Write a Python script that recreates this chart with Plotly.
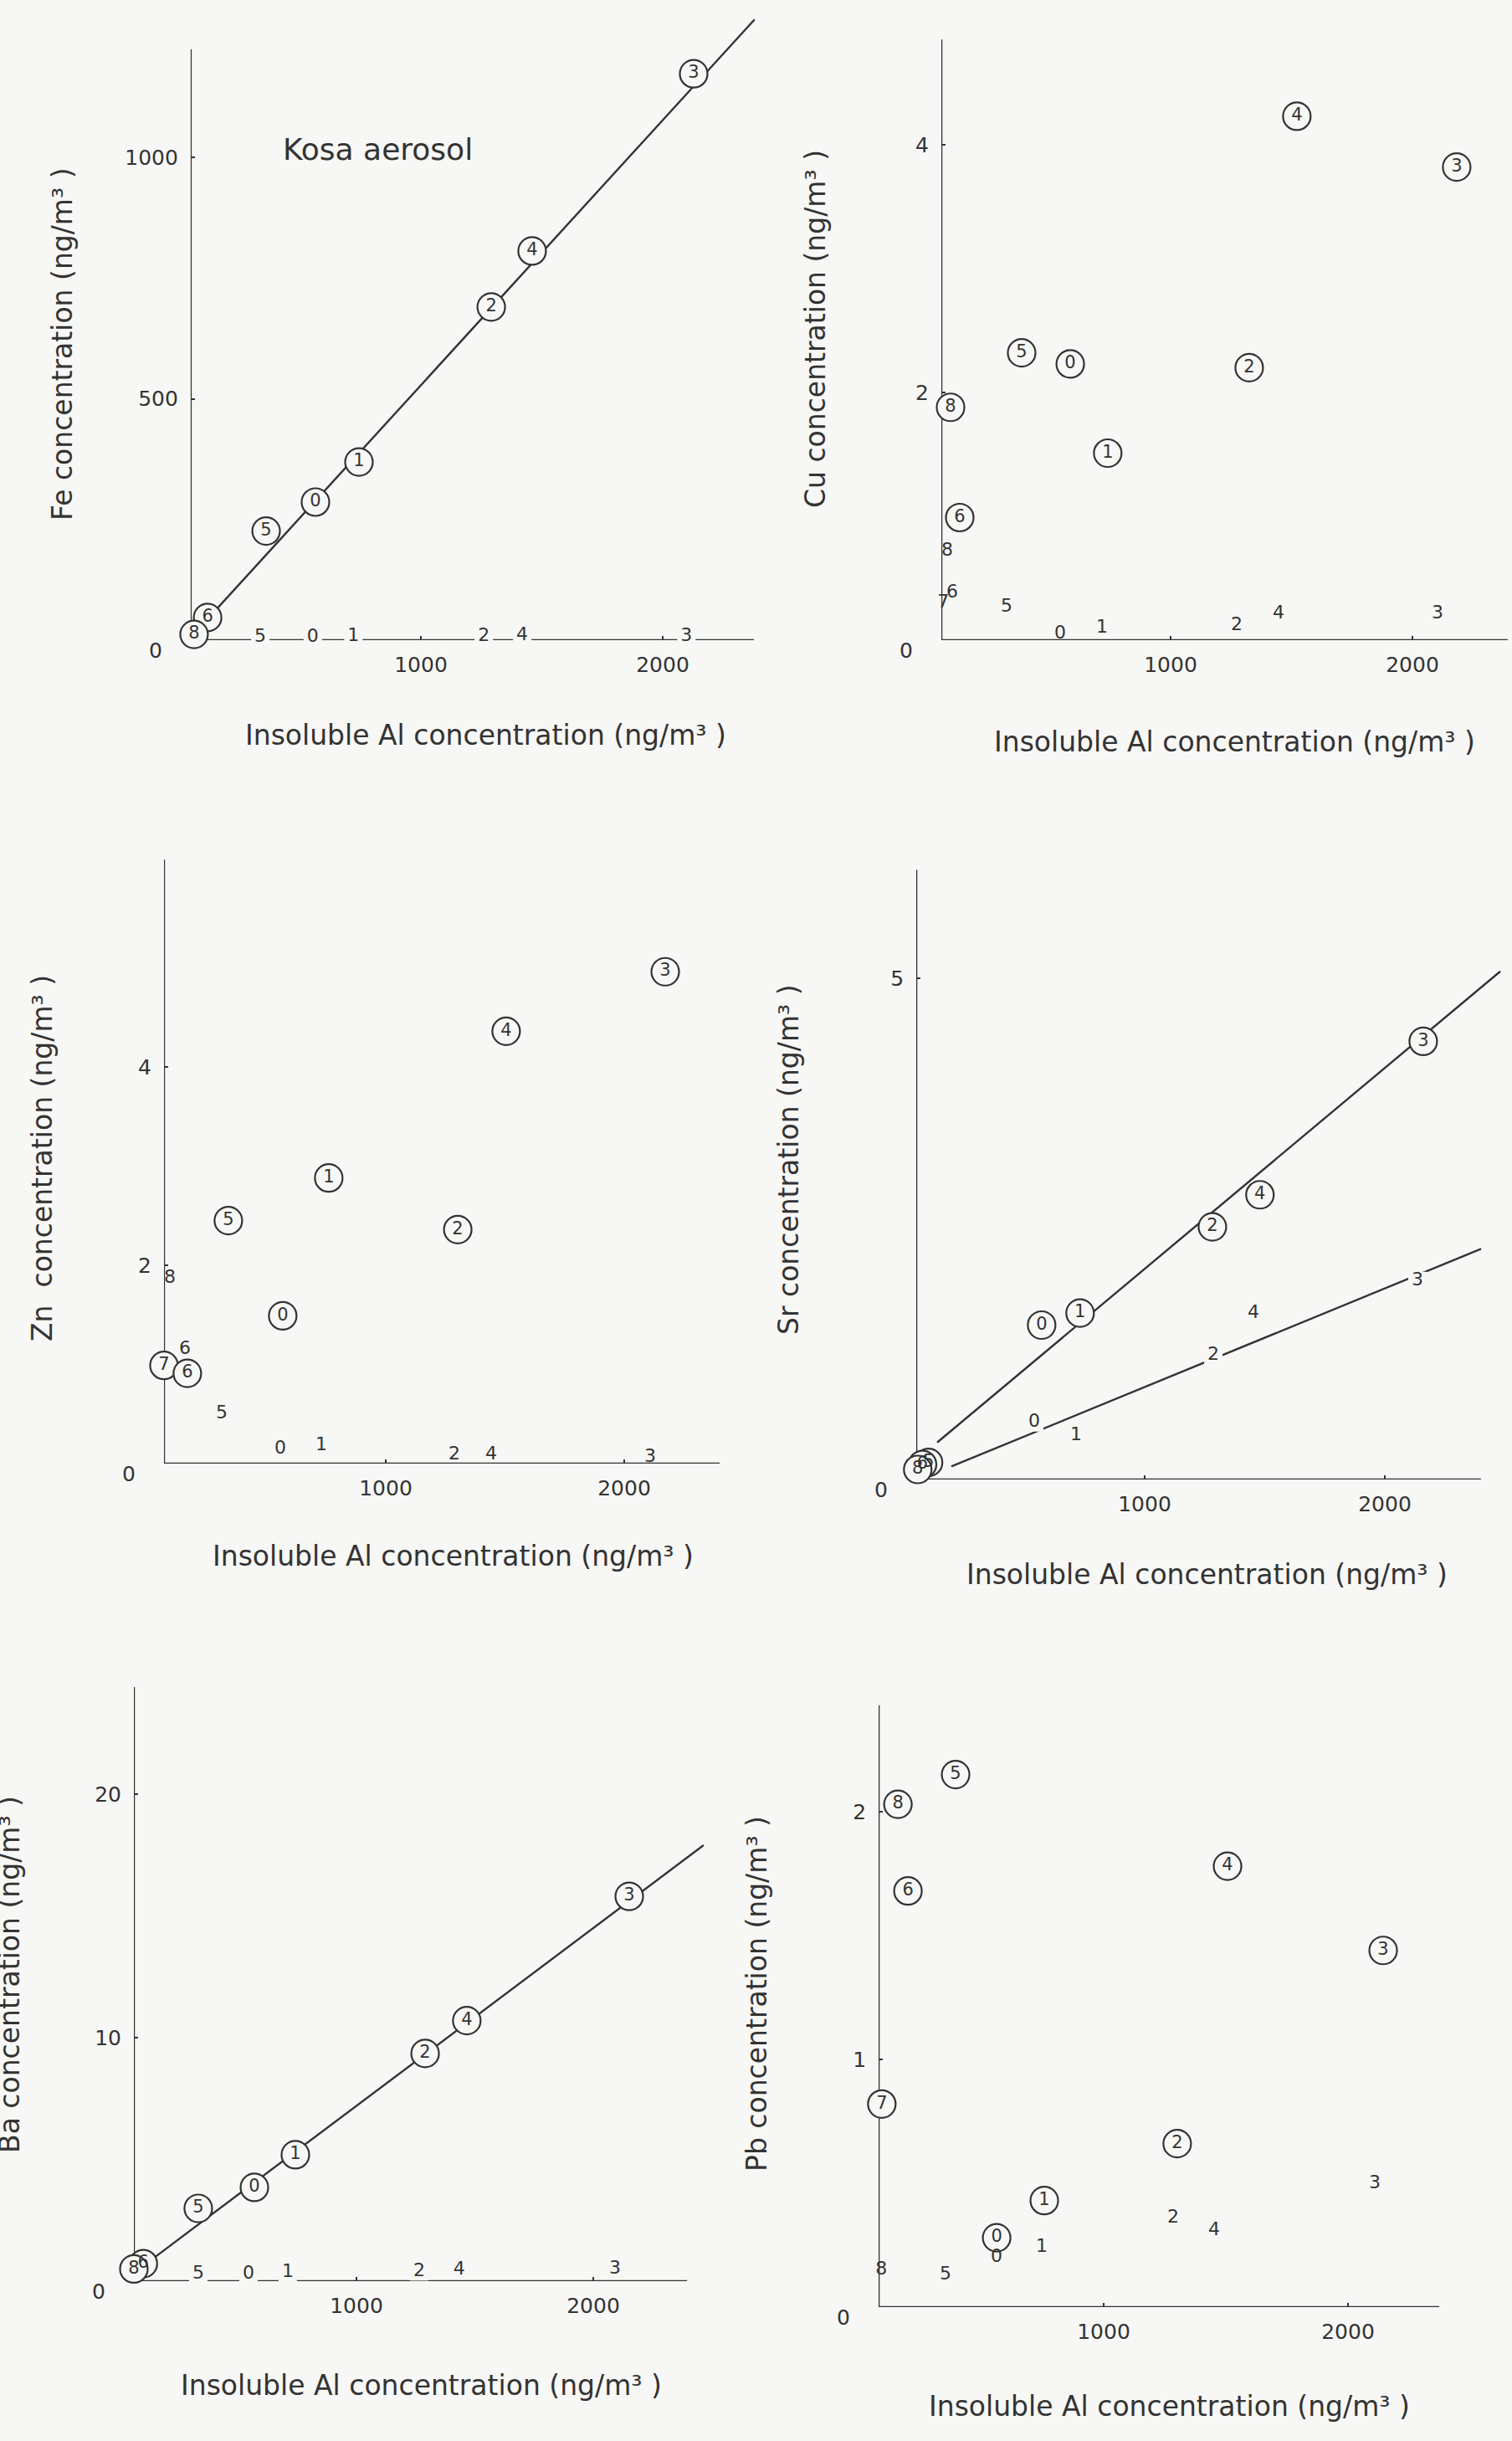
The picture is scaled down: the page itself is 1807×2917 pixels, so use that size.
import plotly.graph_objects as go

FIG_W, FIG_H = 1807, 2917
INK = "#333333"
PAPER = "#f7f7f5"
FONT = "DejaVu Sans"

X_TITLE = "Insoluble Al concentration (ng/m³ )"
X_TICKS = [1000, 2000]

# ---------------- data: sample number, insoluble Al (x), element (y) ----------------
# circled numbers
FE_RING_ID = ["3", "4", "2", "1", "0", "5", "6", "8", "7"]
FE_RING_AL = [2128, 1460, 1291, 744, 564, 360, 118, 62, 45]
FE_RING_C = [1173, 806, 690, 369, 286, 226, 47, 12, 5]
# plain numbers
FE_PLAIN_ID = ["5", "0", "1", "2", "4", "3"]
FE_PLAIN_AL = [336, 553, 721, 1260, 1419, 2098]
FE_PLAIN_C = [6, 6, 8, 7, 9, 8]
FE_YTICKS = [500, 1000]
# fitted lines: (slope, intercept, x from, x to)
FE_FITS = [(0.549, -21.0, 160, 2380)]

CU_RING_ID = ["4", "3", "5", "0", "2", "8", "1", "6", "7"]
CU_RING_AL = [1522, 2183, 384, 585, 1325, 90, 740, 128, 35]
CU_RING_C = [4.23, 3.82, 2.32, 2.23, 2.20, 1.88, 1.51, 0.99, 0.81]
CU_PLAIN_ID = ["8", "6", "7", "5", "0", "1", "2", "4", "3"]
CU_PLAIN_AL = [76, 97, 60, 322, 543, 716, 1273, 1446, 2104]
CU_PLAIN_C = [0.72, 0.38, 0.30, 0.27, 0.05, 0.10, 0.12, 0.21, 0.21]
CU_YTICKS = [2, 4]
CU_FITS = []

ZN_RING_ID = ["3", "4", "1", "5", "2", "0", "7", "6"]
ZN_RING_AL = [2172, 1505, 761, 340, 1302, 568, 70, 168]
ZN_RING_C = [4.96, 4.36, 2.88, 2.45, 2.36, 1.49, 0.99, 0.91]
ZN_PLAIN_ID = ["8", "6", "5", "0", "1", "2", "4", "3"]
ZN_PLAIN_AL = [95, 158, 312, 558, 730, 1288, 1442, 2109]
ZN_PLAIN_C = [1.87, 1.15, 0.50, 0.15, 0.18, 0.09, 0.09, 0.06]
ZN_YTICKS = [2, 4]
ZN_FITS = []

SR_RING_ID = ["3", "4", "2", "1", "0", "5", "6", "7", "8"]
SR_RING_AL = [2160, 1480, 1282, 731, 571, 100, 75, 30, 55]
SR_RING_C = [4.37, 2.84, 2.52, 1.66, 1.54, 0.17, 0.15, 0.13, 0.10]
SR_PLAIN_ID = ["3", "4", "2", "0", "1"]
SR_PLAIN_AL = [2136, 1453, 1286, 540, 714]
SR_PLAIN_C = [1.98, 1.66, 1.24, 0.57, 0.44]
SR_YTICKS = [5]
SR_FITS = [(0.002004, 0.097, 136, 2481), (0.000984, -0.062, 195, 2401)]

BA_RING_ID = ["3", "4", "2", "1", "0", "5", "6", "8", "7"]
BA_RING_AL = [2152, 1466, 1290, 742, 569, 332, 100, 60, 32]
BA_RING_C = [15.8, 10.7, 9.35, 5.19, 3.85, 2.99, 0.72, 0.50, 0.38]
BA_PLAIN_ID = ["5", "0", "1", "2", "4", "3"]
BA_PLAIN_AL = [332, 544, 710, 1265, 1434, 2092]
BA_PLAIN_C = [0.3, 0.3, 0.35, 0.4, 0.45, 0.5]
BA_YTICKS = [10, 20]
BA_FITS = [(0.0073, -0.10, 145, 2466)]

PB_RING_ID = ["5", "8", "4", "6", "3", "7", "2", "1", "0"]
PB_RING_AL = [394, 158, 1507, 199, 2144, 92, 1301, 757, 562]
PB_RING_C = [2.15, 2.03, 1.78, 1.68, 1.44, 0.82, 0.66, 0.43, 0.28]
PB_PLAIN_ID = ["3", "2", "4", "1", "0", "5", "8"]
PB_PLAIN_AL = [2110, 1284, 1452, 747, 562, 353, 90]
PB_PLAIN_C = [0.50, 0.36, 0.31, 0.24, 0.20, 0.13, 0.15]
PB_YTICKS = [1, 2]
PB_FITS = []

# ---------------- panel geometry (pixels of the page) ----------------
PANELS = [
    dict(ylabel="Fe concentration (ng/m³ )", yticks=FE_YTICKS, fits=FE_FITS, knockout=True,
         ring=(FE_RING_ID, FE_RING_AL, FE_RING_C), plain=(FE_PLAIN_ID, FE_PLAIN_AL, FE_PLAIN_C),
         x0=214, kx=0.289, y0=765, ky=0.577, axis_x=48, axis_x_end=2377, axis_y_top=1224,
         right_px=910, ytitle_at=(74, 411), xtitle_at=(580, 878)),
    dict(ylabel="Cu concentration (ng/m³ )", yticks=CU_YTICKS, fits=CU_FITS, knockout=False,
         ring=(CU_RING_ID, CU_RING_AL, CU_RING_C), plain=(CU_PLAIN_ID, CU_PLAIN_AL, CU_PLAIN_C),
         x0=1110, kx=0.289, y0=765, ky=148.0, axis_x=52, axis_x_end=2394, axis_y_top=4.85,
         right_px=1805, ytitle_at=(975, 393), xtitle_at=(1475, 886)),
    dict(ylabel="Zn  concentration (ng/m³ )", yticks=ZN_YTICKS, fits=ZN_FITS, knockout=False,
         ring=(ZN_RING_ID, ZN_RING_AL, ZN_RING_C), plain=(ZN_PLAIN_ID, ZN_PLAIN_AL, ZN_PLAIN_C),
         x0=176, kx=0.285, y0=1749, ky=118.5, axis_x=70, axis_x_end=2400, axis_y_top=6.09,
         right_px=910, ytitle_at=(50, 1384), xtitle_at=(541, 1859)),
    dict(ylabel="Sr concentration (ng/m³ )", yticks=SR_YTICKS, fits=SR_FITS, knockout=True,
         ring=(SR_RING_ID, SR_RING_AL, SR_RING_C), plain=(SR_PLAIN_ID, SR_PLAIN_AL, SR_PLAIN_C),
         x0=1081, kx=0.287, y0=1768, ky=119.8, axis_x=49, axis_x_end=2400, axis_y_top=6.08,
         right_px=1805, ytitle_at=(942, 1386), xtitle_at=(1442, 1881)),
    dict(ylabel="Ba concentration (ng/m³ )", yticks=BA_YTICKS, fits=BA_FITS, knockout=True,
         ring=(BA_RING_ID, BA_RING_AL, BA_RING_C), plain=(BA_PLAIN_ID, BA_PLAIN_AL, BA_PLAIN_C),
         x0=143, kx=0.283, y0=2726, ky=29.1, axis_x=60, axis_x_end=2396, axis_y_top=24.4,
         right_px=910, ytitle_at=(11, 2360), xtitle_at=(504, 2850)),
    dict(ylabel="Pb concentration (ng/m³ )", yticks=PB_YTICKS, fits=PB_FITS, knockout=False,
         ring=(PB_RING_ID, PB_RING_AL, PB_RING_C), plain=(PB_PLAIN_ID, PB_PLAIN_AL, PB_PLAIN_C),
         x0=1027, kx=0.292, y0=2757, ky=296.0, axis_x=79, axis_x_end=2373, axis_y_top=2.43,
         right_px=1805, ytitle_at=(904, 2383), xtitle_at=(1397, 2875)),
]

fig = go.Figure()
shapes, annotations, layout_axes = [], [], {}

for i, p in enumerate(PANELS, start=1):
    sfx = "" if i == 1 else str(i)
    xref, yref = "x" + sfx, "y" + sfx

    left_px = p["x0"] + p["kx"] * p["axis_x"]
    x_hi = (p["right_px"] - p["x0"]) / p["kx"]
    span_px = 745
    y_hi = span_px / p["ky"]

    tick_font = dict(family=FONT, size=25, color=INK)
    layout_axes["xaxis" + sfx] = dict(
        domain=[left_px / FIG_W, p["right_px"] / FIG_W], range=[p["axis_x"], x_hi],
        anchor=yref, tickvals=X_TICKS, ticktext=[str(v) for v in X_TICKS],
        ticks="inside", ticklen=5, tickwidth=2, tickcolor=INK, tickfont=tick_font,
        ticklabelstandoff=12, showline=False, showgrid=False, zeroline=False,
        layer="below traces", fixedrange=True)
    layout_axes["yaxis" + sfx] = dict(
        domain=[1 - p["y0"] / FIG_H, 1 - (p["y0"] - span_px) / FIG_H], range=[0, y_hi],
        anchor=xref, tickvals=p["yticks"], ticktext=[str(v) for v in p["yticks"]],
        ticks="inside", ticklen=5, tickwidth=2, tickcolor=INK, tickfont=tick_font,
        ticklabelstandoff=14, showline=False, showgrid=False, zeroline=False,
        layer="below traces", fixedrange=True)

    # axis lines
    line_style = dict(color=INK, width=2.5)
    shapes.append(dict(type="line", xref=xref, yref=yref, layer="below",
                       x0=p["axis_x"], y0=0, x1=p["axis_x_end"], y1=0, line=line_style))
    shapes.append(dict(type="line", xref=xref, yref=yref, layer="below",
                       x0=p["axis_x"], y0=0, x1=p["axis_x"], y1=p["axis_y_top"], line=line_style))

    # fitted lines
    for slope, icpt, xa, xb in p["fits"]:
        fig.add_trace(go.Scatter(
            x=[xa, xb], y=[slope * xa + icpt, slope * xb + icpt], mode="lines",
            line=dict(color=INK, width=2.4), xaxis=xref, yaxis=yref,
            hoverinfo="skip", showlegend=False))

    # circled sample numbers
    rid, rx, ry = p["ring"]
    fig.add_trace(go.Scatter(
        x=rx, y=ry, text=rid, mode="markers+text", textposition="middle center",
        marker=dict(symbol="circle", size=33, color=PAPER, line=dict(color=INK, width=2.2)),
        textfont=dict(family=FONT, size=21, color=INK), cliponaxis=False,
        xaxis=xref, yaxis=yref, hoverinfo="skip", showlegend=False))

    # plain sample numbers
    pid, px_, py_ = p["plain"]
    fig.add_trace(go.Scatter(
        x=px_, y=py_, text=pid,
        mode="markers+text" if p["knockout"] else "text", textposition="middle center",
        marker=dict(symbol="square", size=22, color=PAPER, line=dict(width=0)),
        textfont=dict(family=FONT, size=22, color=INK), cliponaxis=False,
        xaxis=xref, yaxis=yref, hoverinfo="skip", showlegend=False))

    # shared origin label
    annotations.append(dict(xref=xref, yref=yref, x=p["axis_x"], y=0, text="0",
                            showarrow=False, xanchor="center", yanchor="middle",
                            xshift=-42, yshift=-12, font=dict(family=FONT, size=25, color=INK)))

    # axis titles
    tx, ty = p["xtitle_at"]
    annotations.append(dict(xref="paper", yref="paper", x=tx / FIG_W, y=1 - ty / FIG_H,
                            text=X_TITLE, showarrow=False, xanchor="center", yanchor="middle",
                            font=dict(family=FONT, size=33, color=INK)))
    vx, vy = p["ytitle_at"]
    annotations.append(dict(xref="paper", yref="paper", x=vx / FIG_W, y=1 - vy / FIG_H,
                            text=p["ylabel"], textangle=-90, showarrow=False,
                            xanchor="center", yanchor="middle",
                            font=dict(family=FONT, size=33, color=INK)))

annotations.append(dict(xref="paper", yref="paper", x=451 / FIG_W, y=1 - 178 / FIG_H,
                        text="Kosa aerosol", showarrow=False, xanchor="center", yanchor="middle",
                        font=dict(family=FONT, size=36, color=INK)))

fig.update_layout(
    width=FIG_W, height=FIG_H, margin=dict(l=0, r=0, t=0, b=0),
    paper_bgcolor=PAPER, plot_bgcolor="rgba(0,0,0,0)",
    shapes=shapes, annotations=annotations, showlegend=False,
    font=dict(family=FONT, color=INK), **layout_axes)

fig.write_html("out.html", config={"displayModeBar": False})
